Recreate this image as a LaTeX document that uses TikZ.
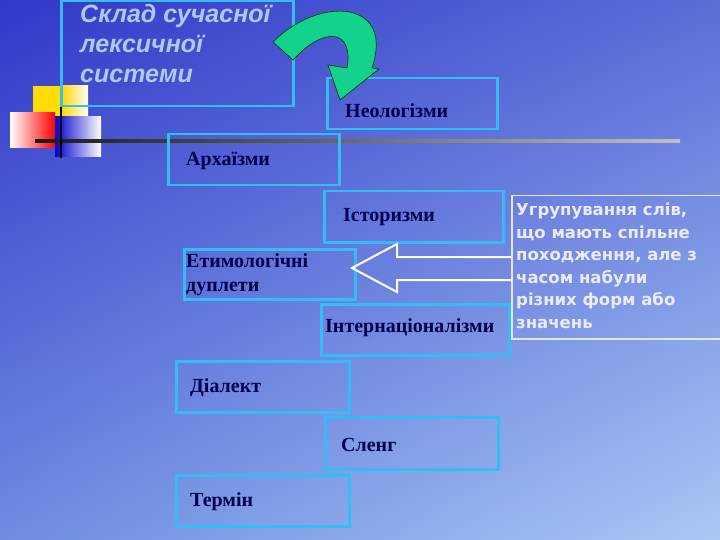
\documentclass[tikz,border=0pt]{standalone}
\usetikzlibrary{shadings}
\usepackage{fontspec}
\setmainfont{Liberation Serif}
\newfontfamily\titlefont{Liberation Sans}
\newfontfamily\djfont{DejaVu Sans}
\definecolor{bgul}{RGB}{50,55,200}
\definecolor{bgur}{RGB}{90,110,215}
\definecolor{bgll}{RGB}{110,140,225}
\definecolor{bglr}{RGB}{170,200,245}
\definecolor{ttcol}{RGB}{175,200,245}
\definecolor{grn}{RGB}{20,210,140}
\begin{document}
\begin{tikzpicture}[x=1pt,y=-1pt,
  cbox/.style={draw=cyan!80!white,line width=2.5pt},
  lbl/.style={anchor=west,font=\bfseries\fontsize{20}{24}\selectfont,text=blue!30!black,align=left,inner sep=0pt}]
\useasboundingbox (0,0) rectangle (720,540);
\shade[upper left=bgul,upper right=bgur,lower left=bgll,lower right=bglr] (0,0) rectangle (720,540);
% decorations
\fill[yellow!80!orange] (33,86) rectangle (62,117);
\shade[left color=yellow!70!orange,right color=white] (62,86) rectangle (88,117);
\shade[left color=white,right color=red] (10,113) rectangle (55,148);
\shade[left color=blue!80!black,right color=white] (55,117) rectangle (101,157);
\shade[left color=black!90,right color=gray!50] (35,140) rectangle (680,143);
\draw[black,line width=2pt] (61,78) -- (61,158);
% boxes
\node[cbox,minimum width=232,minimum height=105,anchor=north west] (title) at (60,0) {};
\node[anchor=north west,inner sep=0pt,align=left,text=ttcol,font=\titlefont\bfseries\itshape\fontsize{25}{30}\selectfont] (tt) at (80,4) {Склад сучасної\\лексичної\\системи};
\node[cbox,minimum width=170,minimum height=51,anchor=north west] (neo) at (326,77) {};
\node[lbl] (neol) at (345,111) {Неологізми};
\node[cbox,minimum width=171,minimum height=51,anchor=north west] (arch) at (167,133) {};
\node[lbl] (archl) at (186,161) {Архаїзми};
\node[cbox,minimum width=179,minimum height=51,anchor=north west] (ist) at (323,190) {};
\node[lbl] (istl) at (343,217) {Історизми};
\node[cbox,minimum width=171,minimum height=50,anchor=north west] (et) at (183,248) {};
\node[lbl] (etl) at (186,275) {Етимологічні\\дуплети};
\node[cbox,minimum width=188,minimum height=51,anchor=north west] (int) at (320,303) {};
\node[lbl] (intl) at (325,328) {Інтернаціоналізми};
\node[draw=white!90!blue,line width=1.5pt,minimum width=210,minimum height=143,anchor=north west] (tb) at (511,195) {};
\node[anchor=north west,inner sep=0pt,align=left,text=white!92!blue,font=\djfont\bfseries\fontsize{16.5}{22.5}\selectfont] (tbt) at (516,203) {Угрупування слів,\\що мають спільне\\походження, але з\\часом набули\\різних форм або\\значень};
\node[cbox,minimum width=173,minimum height=51,anchor=north west] (dia) at (175,360) {};
\node[lbl] (dial) at (190,388) {Діалект};
\node[cbox,minimum width=173,minimum height=52,anchor=north west] (sl) at (324,416) {};
\node[lbl] (sll) at (341,445) {Сленг};
\node[cbox,minimum width=173,minimum height=51,anchor=north west] (ter) at (175,474) {};
\node[lbl] (terl) at (190,502) {Термін};
% white hollow arrow
\draw[white,line width=2pt,line join=miter] (tb.west |- 0,257) -- (397,257) -- (397,244) -- (352,268) -- (397,292) -- (397,280) -- (tb.west |- 0,280);
% green curved arrow
\filldraw[fill=grn,draw=black!70!green,line width=0.7pt]
 (273,42) .. controls (320,-5) and (395,0) .. (372,68) -- (379,69) -- (340,100) -- (328,65) -- (347,68)
 .. controls (354,30) and (325,25) .. (293,60) -- cycle;
\end{tikzpicture}
\end{document}
